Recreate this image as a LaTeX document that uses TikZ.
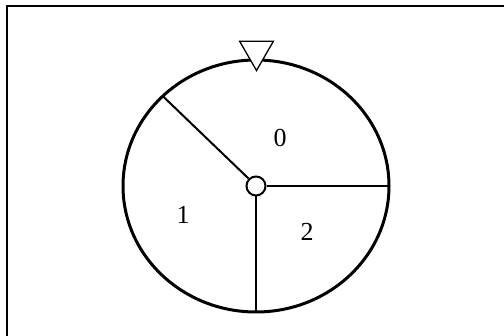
\documentclass[tikz,border=0pt]{standalone}
\usepackage{fontspec}
\setmainfont{Liberation Serif}
\usetikzlibrary{calc,shapes.geometric}
\begin{document}
\begin{tikzpicture}[x=1pt,y=-1pt,
  rim/.style={line width=3pt},
  spoke/.style={line width=2pt},
  lbl/.style={font=\fontsize{26}{28}\selectfont, inner sep=0pt}]
\useasboundingbox (0,0) rectangle (504,336);
\fill[white] (0,0) rectangle (504,336);
% frame (right and bottom edges fall outside the picture)
\draw[line width=2pt] (7,345) -- (7,6) -- (515,6);
% wheel
\coordinate (c) at (256,186);
\draw[rim] (c) ellipse [x radius=133, y radius=126];
\coordinate (ul) at ($(c)+({133*cos(134.5)},{-126*sin(134.5)})$);
\coordinate (r) at (389,186);
\coordinate (b) at (256,312);
\node[draw, circle, line width=2pt, minimum size=19pt, inner sep=0pt, fill=white] (hub) at (c) {};
\draw[spoke] (hub.135) -- (ul);
\draw[spoke] (hub.east) -- (r);
\draw[spoke] (hub.south) -- (b);
% pointer
\node[draw, fill=white, line width=1.3pt, regular polygon, regular polygon sides=3, shape border rotate=180, minimum size=39pt, inner sep=0pt] (ptr) at (256.5,51) {};
% labels
\node[lbl] (l0) at (280,138) {0};
\node[lbl] (l1) at (183,215) {1};
\node[lbl] (l2) at (307,232) {2};
\end{tikzpicture}
\end{document}
